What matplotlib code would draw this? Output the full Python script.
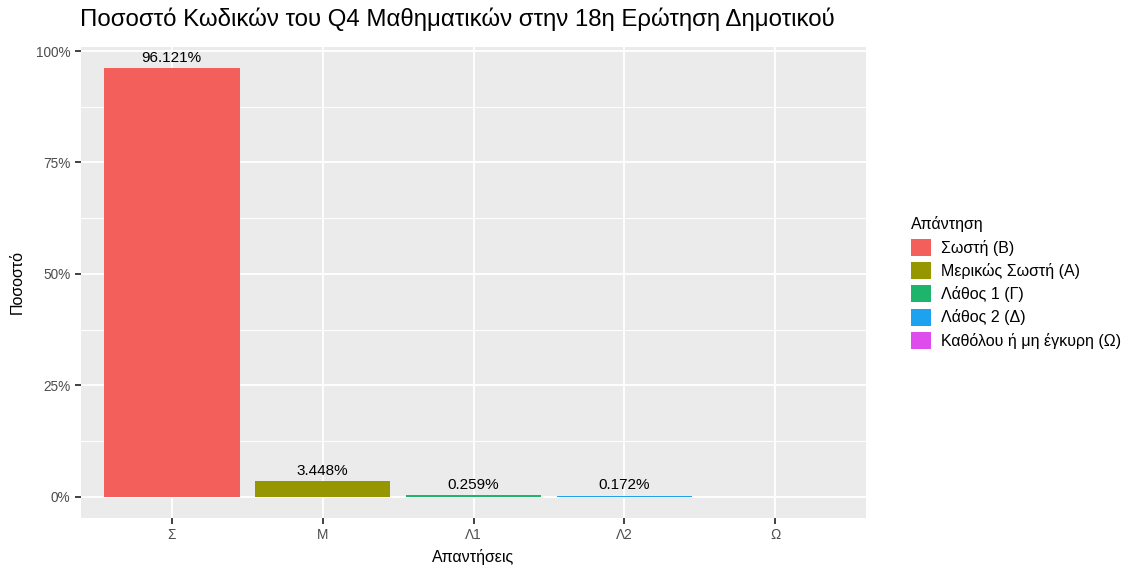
"""Ποσοστό κωδικών Q4 μαθηματικών, 18η ερώτηση δημοτικού (ggplot-like)."""

import matplotlib

matplotlib.use("Agg")
import matplotlib.pyplot as plt
from matplotlib.patches import Patch
from matplotlib.ticker import FixedLocator, FuncFormatter

plt.rcParams["font.family"] = ["Liberation Sans", "DejaVu Sans"]

categories = ["Σ", "Μ", "Λ1", "Λ2", "Ω"]
percentages = [96.121, 3.448, 0.259, 0.172, 0.0]
legend_labels = [
    "Σωστή (Β)",
    "Μερικώς Σωστή (Α)",
    "Λάθος 1 (Γ)",
    "Λάθος 2 (Δ)",
    "Καθόλου ή μη έγκυρη (Ω)",
]
colors = ["#F35F5B", "#969600", "#1DB46C", "#1CA2EE", "#DE4CEE"]

W, H = 1127, 568
fig = plt.figure(figsize=(W / 100, H / 100), dpi=100)
ax = fig.add_axes([81 / W, (H - 518) / H, (866 - 81) / W, (518 - 47) / H])

ax.set_facecolor("#EBEBEB")
for s in ax.spines.values():
    s.set_visible(False)

x = list(range(len(categories)))
ax.bar(x, percentages, width=0.9, color=colors, zorder=3)
for xi, v in zip(x, percentages):
    if v > 0:
        ax.text(xi, v + 0.8, f"{v:.3f}%", ha="center", va="bottom",
                fontsize=11, color="black", zorder=4)

ymax = max(percentages)
ax.set_xlim(-0.6, len(categories) - 0.4)
ax.set_ylim(-0.05 * ymax, ymax * 1.05)

ax.yaxis.set_major_locator(FixedLocator([0, 25, 50, 75, 100]))
ax.yaxis.set_minor_locator(FixedLocator([12.5, 37.5, 62.5, 87.5]))
ax.yaxis.set_major_formatter(FuncFormatter(lambda v, _: f"{v:.0f}%"))
ax.set_xticks(x)
ax.set_xticklabels(categories)

ax.grid(which="major", color="white", linewidth=1.3, zorder=1)
ax.grid(which="minor", axis="y", color="white", linewidth=0.7, zorder=1)
ax.tick_params(which="major", length=4.5, width=1.3, color="#333333",
               labelcolor="#4D4D4D", labelsize=9.8, pad=3)
ax.tick_params(which="minor", length=0)

ax.set_xlabel("Απαντήσεις", fontsize=11.5, labelpad=5)
ax.set_ylabel("Ποσοστό", fontsize=11.5, labelpad=8)
fig.text(80 / W, 1 - 19 / H, "Ποσοστό Κωδικών του Q4 Μαθηματικών στην 18η Ερώτηση Δημοτικού",
         fontsize=17.3, ha="left", va="center")

handles = [Patch(facecolor=c, edgecolor="none") for c in colors]
leg = fig.legend(handles, legend_labels, title="Απάντηση", loc="upper left",
                 bbox_to_anchor=(905 / W, 1 - 210 / H), frameon=False,
                 fontsize=11.5, title_fontsize=11.5, handlelength=1.25,
                 handleheight=1.25, handletextpad=0.6, labelspacing=0.4,
                 borderaxespad=0)
leg._legend_box.align = "left"

fig.savefig("out.png", dpi=100)
